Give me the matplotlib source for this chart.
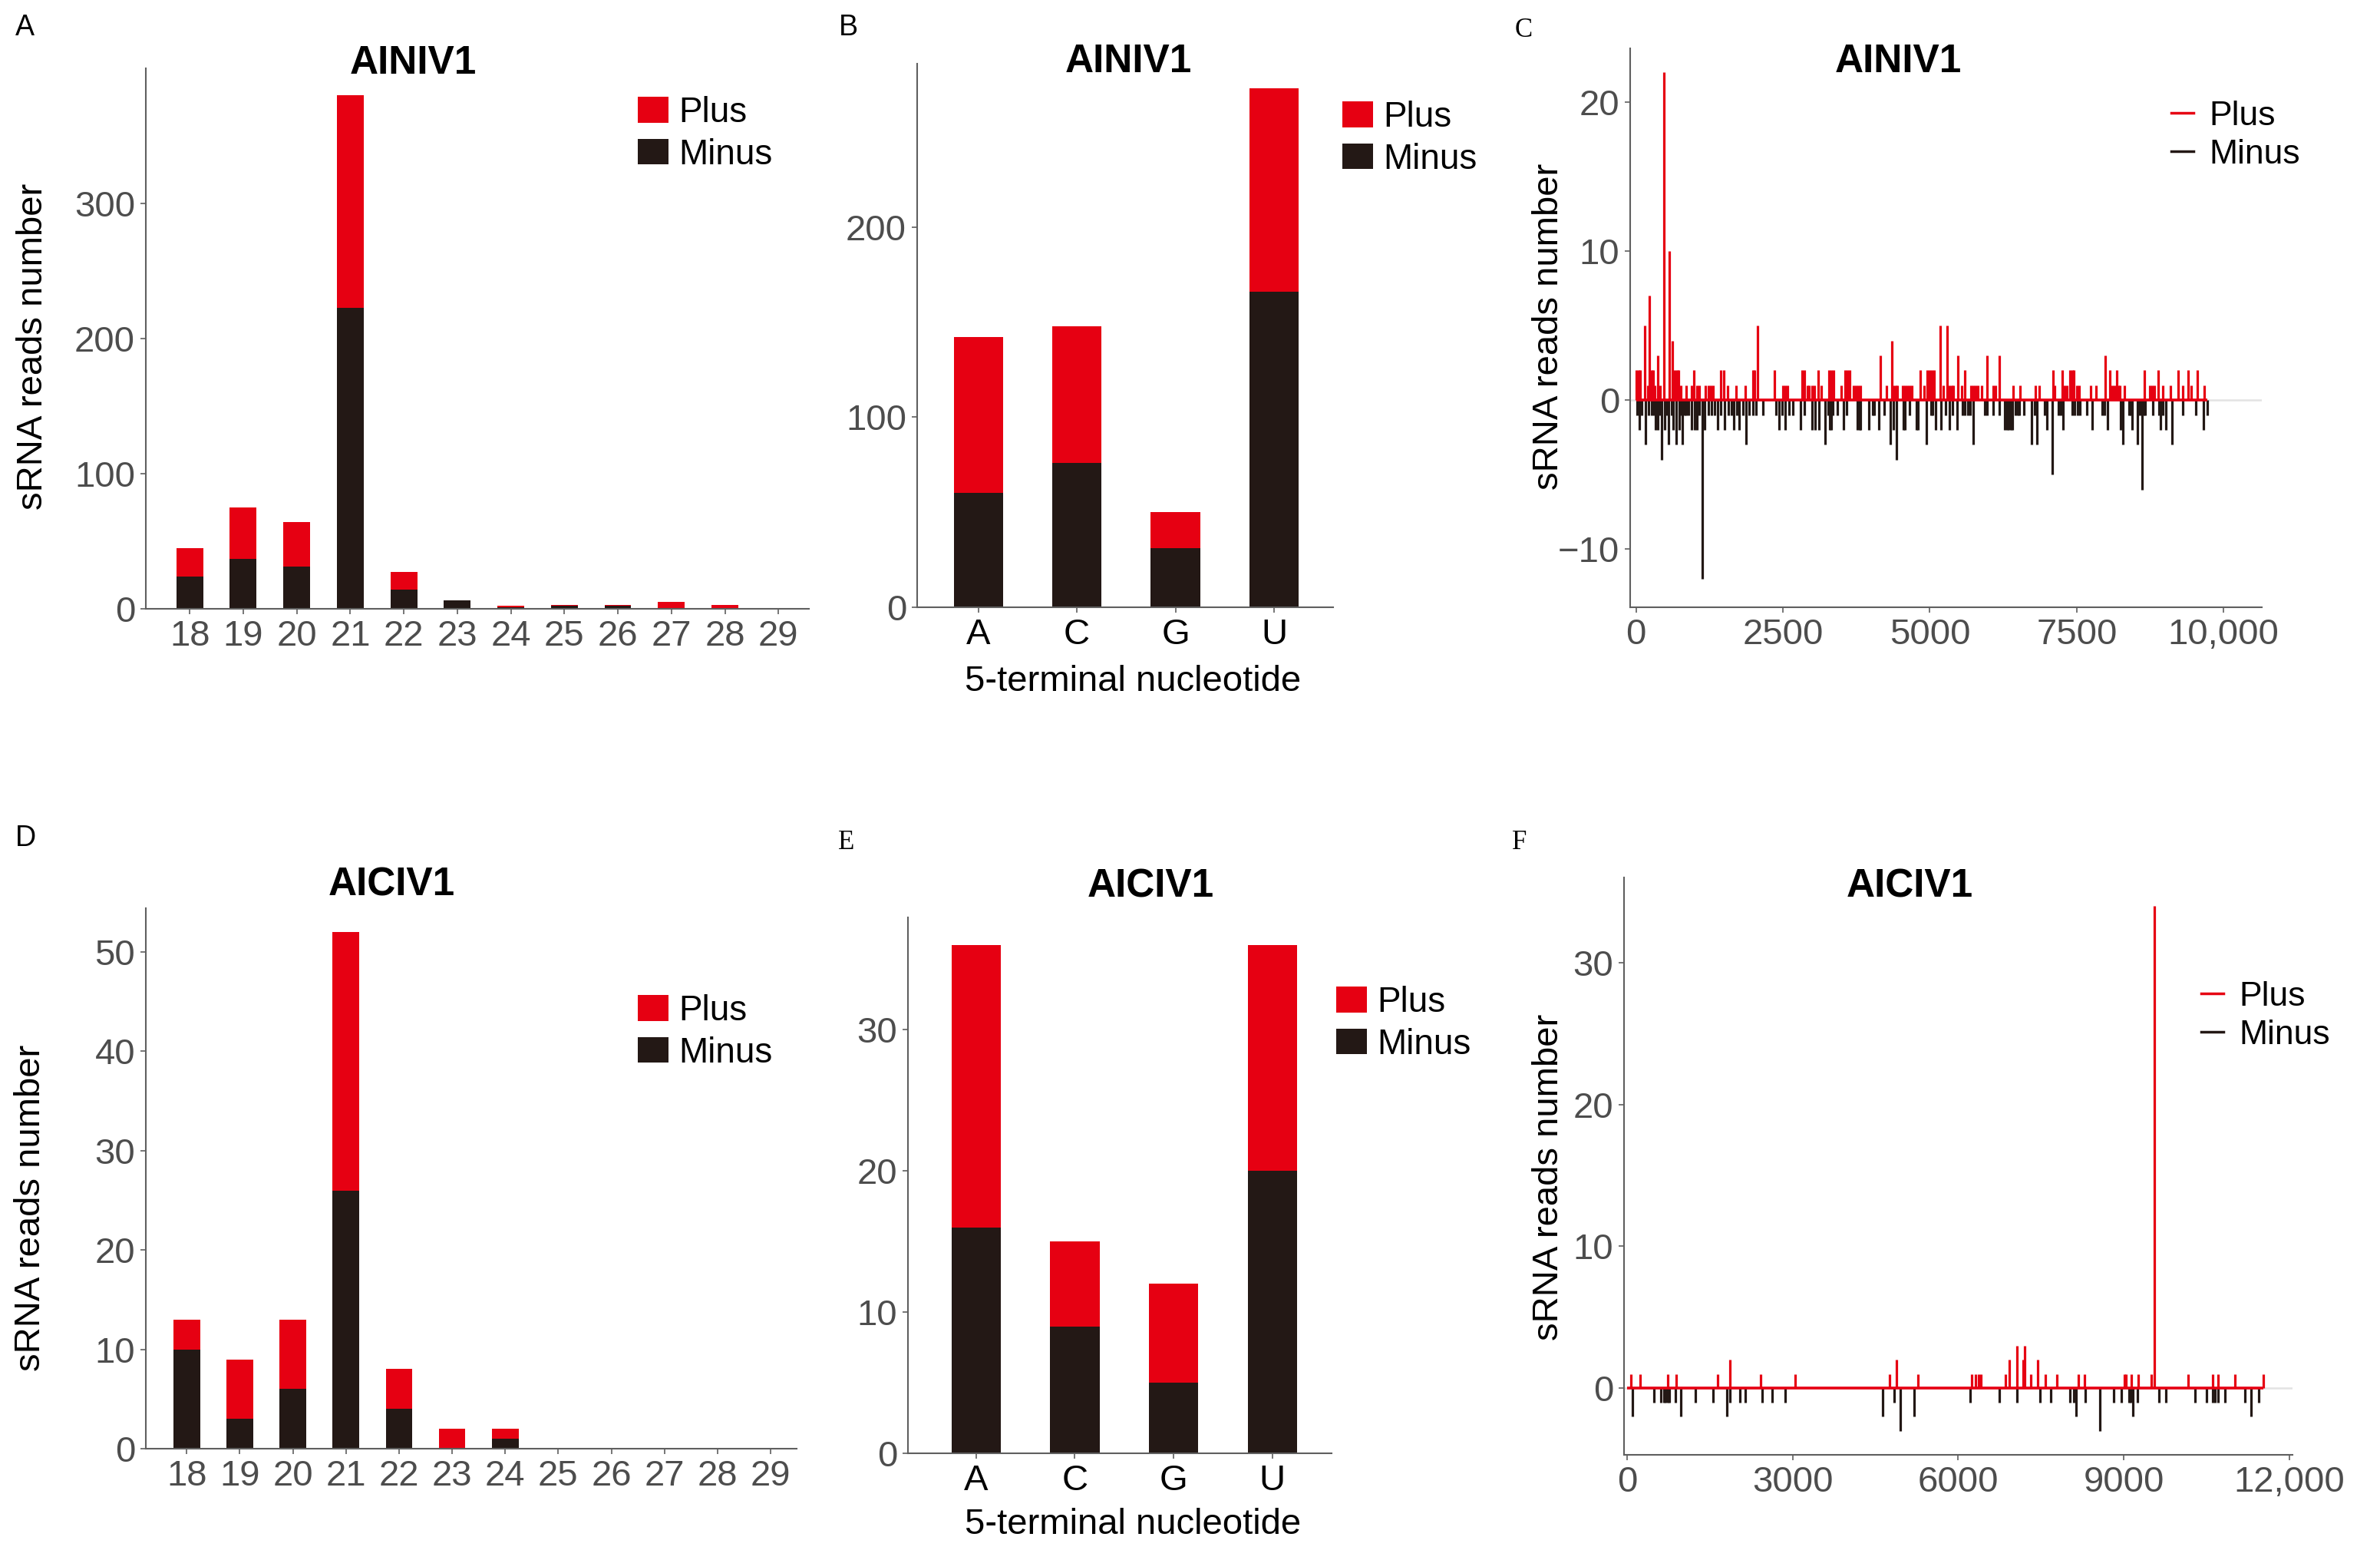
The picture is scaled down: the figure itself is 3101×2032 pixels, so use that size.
import matplotlib
matplotlib.use('Agg')
import matplotlib.pyplot as plt
from matplotlib.patches import Patch
from matplotlib.lines import Line2D

# ---------------- data ----------------
len_cats = ['18', '19', '20', '21', '22', '23', '24', '25', '26', '27', '28', '29']
a_minus = [24, 37, 31, 223, 14, 6, 1, 2, 2, 0, 0, 0]
a_plus = [21, 38, 33, 157, 13, 0, 1, 1, 1, 5, 3, 0]

nt_cats = ['A', 'C', 'G', 'U']
b_minus = [60, 76, 31, 166]
b_plus = [82, 72, 19, 107]

d_minus = [10, 3, 6, 26, 4, 0, 1, 0, 0, 0, 0, 0]
d_plus = [3, 6, 7, 26, 4, 2, 1, 0, 0, 0, 0, 0]

e_minus = [16, 9, 5, 20]
e_plus = [20, 6, 7, 16]

# Panel C (AINIV1) genome coverage
c_plus_pos = [10, 40, 70, 153, 197, 232, 263, 293, 324, 364, 407, 473, 569, 613, 657,
              692, 723, 758, 854, 942, 986, 1038, 1082, 1183, 1226, 1270, 1314, 1445,
              1489, 1555, 1708, 1862, 1984, 2019, 2072, 2356, 2497, 2540, 2584, 2825,
              2869, 2913, 2948, 3000, 3035, 3101, 3154, 3285, 3320, 3355, 3489, 3560,
              3598, 3630, 3700, 3740, 3780, 3815, 4156, 4260, 4352, 4383, 4420, 4450,
              4540, 4580, 4620, 4660, 4700, 4840, 4906, 4950, 4990, 5030, 5070, 5180,
              5233, 5298, 5330, 5370, 5400, 5473, 5538, 5595, 5700, 5740, 5780, 5820,
              5880, 5974, 6074, 6120, 6183, 6423, 6541, 6798, 6868, 7094, 7129, 7260,
              7290, 7330, 7380, 7420, 7450, 7500, 7540, 7731, 7835, 7988, 8066, 8100,
              8140, 8184, 8210, 8240, 8306, 8650, 8740, 8780, 8820, 8890, 8969, 9100,
              9231, 9300, 9392, 9453, 9549, 9666]
c_plus_val = [2, 2, 2, 5, 1, 7, 2, 2, 1, 3, 1, 22, 10, 4, 2,
              2, 2, 1, 1, 1, 2, 1, 1, 1, 1, 1, 1, 2,
              2, 1, 1, 1, 2, 2, 5, 2, 1, 1, 1, 2,
              2, 1, 1, 1, 1, 2, 1, 2, 2, 2, 1, 2,
              2, 2, 1, 1, 1, 1, 3, 1, 4, 1, 1, 1,
              1, 1, 1, 1, 1, 2, 1, 2, 2, 2, 2, 5,
              1, 5, 1, 1, 1, 3, 1, 2, 1, 1, 1, 1,
              1, 3, 1, 1, 3, 1, 1, 1, 1, 2, 1, 2,
              1, 1, 2, 2, 2, 1, 1, 1, 1, 3, 2, 1,
              1, 2, 1, 1, 1, 2, 1, 1, 1, 2, 1, 1,
              2, 1, 2, 1, 2, 1]
c_minus_pos = [22, 57, 101, 162, 219, 263, 300, 328, 372, 405, 438, 482, 526, 556, 600,
               635, 688, 731, 760, 788, 832, 860, 889, 942, 994, 1038, 1080, 1126, 1169,
               1226, 1283, 1336, 1393, 1445, 1511, 1577, 1620, 1664, 1710, 1752, 1818,
               1870, 1927, 1993, 2037, 2159, 2387, 2431, 2483, 2540, 2606, 2672, 2803,
               2869, 3000, 3053, 3110, 3219, 3272, 3292, 3320, 3350, 3423, 3532, 3584,
               3772, 3800, 3815, 3968, 4033, 4060, 4129, 4225, 4330, 4383, 4435, 4548,
               4580, 4657, 4766, 4800, 4940, 5015, 5050, 5093, 5193, 5263, 5333, 5385,
               5464, 5559, 5600, 5647, 5690, 5743, 5930, 5970, 6074, 6183, 6279, 6310,
               6345, 6380, 6410, 6460, 6497, 6520, 6597, 6737, 6780, 6824, 6955, 6990,
               7085, 7194, 7230, 7268, 7425, 7460, 7521, 7560, 7674, 7757, 7936, 7970,
               8027, 8241, 8284, 8393, 8420, 8446, 8533, 8577, 8611, 8640, 8664, 8794,
               8895, 8930, 8960, 9013, 9122, 9300, 9527, 9658, 9723]
c_minus_val = [-1, -2, -1, -3, -1, -1, -1, -2, -2, -1, -4, -2, -1, -3, -1,
               -2, -3, -2, -1, -3, -1, -1, -1, -2, -2, -2, -1, -12, -2,
               -1, -1, -1, -2, -1, -2, -1, -1, -2, -1, -2, -1,
               -3, -1, -1, -1, -1, -1, -2, -1, -2, -1, -1, -2,
               -1, -2, -2, -2, -3, -1, -2, -2, -1, -1, -2, -1,
               -2, -2, -2, -2, -1, -1, -2, -1, -3, -2, -4, -2,
               -2, -1, -2, -2, -3, -1, -1, -2, -2, -1, -2, -1,
               -2, -1, -1, -1, -1, -3, -1, -1, -1, -1, -2, -2,
               -2, -2, -2, -1, -1, -1, -1, -3, -1, -3, -1, -2,
               -5, -1, -1, -2, -1, -1, -1, -1, -1, -2, -1, -1,
               -2, -2, -3, -1, -1, -2, -3, -1, -6, -1, -1, -1,
               -1, -2, -1, -2, -3, -1, -1, -2, -1]

# Panel F (AICIV1) genome coverage
f_plus_pos = [65, 235, 734, 896, 1648, 1865, 2419, 3042, 4751, 4889, 5268, 6251, 6320,
              6366, 6413, 6851, 6921, 7073, 7174, 7211, 7322, 7442, 7576, 7788, 8176,
              8292, 9012, 9046, 9146, 9261, 9506, 9552, 10175, 10614, 10706, 11015, 11537]
f_plus_val = [1, 1, 1, 1, 1, 2, 1, 1, 1, 2, 1, 1, 1,
              1, 1, 1, 2, 3, 2, 3, 1, 2, 1, 1, 1,
              1, 1, 1, 1, 1, 1, 34, 1, 1, 1, 1, 1]
f_minus_pos = [97, 494, 619, 662, 702, 734, 766, 872, 979, 1233, 1565, 1810, 1865, 2040,
               2142, 2442, 2627, 2871, 4626, 4843, 4958, 5203, 6219, 6749, 7073, 7488,
               7682, 8028, 8098, 8144, 8306, 8569, 8813, 8961, 9099, 9127, 9160, 9252,
               9644, 9768, 10291, 10498, 10614, 10660, 10706, 10835, 11191, 11306, 11444]
f_minus_val = [-2, -1, -1, -1, -1, -1, -1, -1, -2, -1, -1, -2, -1, -1,
               -1, -1, -1, -1, -2, -1, -3, -2, -1, -1, -1, -1,
               -1, -1, -1, -2, -1, -3, -1, -1, -1, -1, -2, -1,
               -1, -1, -1, -1, -1, -1, -1, -1, -1, -2, -1]

c_xticks = [0, 2500, 5000, 7500, 10000]
c_xticklabels = ['0', '2500', '5000', '7500', '10,000']
f_xticks = [0, 3000, 6000, 9000, 12000]
f_xticklabels = ['0', '3000', '6000', '9000', '12,000']

# ---------------- style ----------------
RED = '#E60012'
BLK = '#231815'
AXC = '#5F5F5F'
TICKC = '#4D4D4D'
W, H = 3101, 2032

plt.rcParams['font.family'] = ['Liberation Sans', 'DejaVu Sans']
fig = plt.figure(figsize=(W / 100, H / 100), dpi=100)


def add_ax(l, r, t, b):
    ax = fig.add_axes([l / W, 1 - b / H, (r - l) / W, (b - t) / H])
    for s in ['top', 'right']:
        ax.spines[s].set_visible(False)
    for s in ['left', 'bottom']:
        ax.spines[s].set_color(AXC)
        ax.spines[s].set_linewidth(1.5)
    ax.tick_params(length=5, width=1.2, color=AXC, labelsize=34,
                   labelcolor=TICKC, pad=5)
    return ax


def ftext(x, y, s, **kw):
    fig.text(x / W, 1 - y / H, s, **kw)


def patch_legend(ax, x, y):
    h = [Patch(facecolor=RED, edgecolor='none'), Patch(facecolor=BLK, edgecolor='none')]
    ax.legend(h, ['Plus', 'Minus'], loc='upper left', bbox_to_anchor=(x / W, 1 - y / H),
              bbox_transform=fig.transFigure, frameon=False, fontsize=33,
              handlelength=0.87, handleheight=0.74, handletextpad=0.3,
              labelspacing=0.23, borderpad=0, borderaxespad=0)


def line_legend(ax, x, y):
    h = [Line2D([], [], color=RED, lw=2.5), Line2D([], [], color=BLK, lw=2.5)]
    ax.legend(h, ['Plus', 'Minus'], loc='upper left', bbox_to_anchor=(x / W, 1 - y / H),
              bbox_transform=fig.transFigure, frameon=False, fontsize=32,
              handlelength=0.65, handletextpad=0.45,
              labelspacing=0.2, borderpad=0, borderaxespad=0)


def stacked(ax, cats, minus, plus):
    xs = list(range(len(cats)))
    ax.bar(xs, minus, width=0.5, color=BLK, linewidth=0)
    ax.bar(xs, plus, width=0.5, bottom=minus, color=RED, linewidth=0)
    ax.set_xticks(xs)
    ax.set_xticklabels(cats)


def coverage(ax, ppos, pval, mpos, mval):
    end = max(max(ppos), max(mpos))
    ax.axhline(0, color='#E3E3E3', lw=1.8, zorder=0)
    ax.vlines(mpos, 0, mval, colors=BLK, lw=2.3, zorder=2)
    ax.vlines(ppos, 0, pval, colors=RED, lw=2.3, zorder=3)
    ax.plot([0, end], [0, 0], color=RED, lw=2.6, zorder=4, solid_capstyle='butt')


title_kw = dict(ha='center', va='center', fontsize=37, fontweight='bold', color='black')
lab_kw = dict(ha='center', va='center', fontsize=34, color='black')
letter_sans = dict(ha='left', va='center', fontsize=27, color='black')
letter_serif = dict(ha='left', va='center', fontsize=25, color='black',
                    family=['Liberation Serif', 'DejaVu Serif'])

# ---- Panel A ----
ax = add_ax(190, 1054, 89, 793)
stacked(ax, len_cats, a_minus, a_plus)
ax.set_xlim(-0.82, 11.57)
ax.set_ylim(0, 400)
ax.set_yticks([0, 100, 200, 300])
patch_legend(ax, 831, 125)
ftext(538, 83, 'AINIV1', **title_kw)
ftext(43, 451, 'sRNA reads number', rotation=90, **lab_kw)
ftext(20, 36, 'A', **letter_sans)

# ---- Panel B ----
ax = add_ax(1195, 1737, 83, 791)
stacked(ax, nt_cats, b_minus, b_plus)
ax.set_xlim(-0.62, 3.6)
ax.set_ylim(0, 286)
ax.set_yticks([0, 100, 200])
ax.tick_params(axis='x', labelcolor='black', labelsize=34)
patch_legend(ax, 1749, 131)
ftext(1470, 81, 'AINIV1', **title_kw)
ftext(1476, 888, '5-terminal nucleotide', **lab_kw)
ftext(1093, 36, 'B', **letter_sans)

# ---- Panel C ----
ax = add_ax(2124, 2947, 63, 791)
coverage(ax, c_plus_pos, c_plus_val, c_minus_pos, c_minus_val)
ax.set_xlim(-100, 10650)
ax.set_ylim(-13.9, 23.6)
ax.set_yticks([-10, 0, 10, 20])
ax.set_xticks(c_xticks)
ax.set_xticklabels(c_xticklabels)
line_legend(ax, 2829, 131)
ftext(2473, 81, 'AINIV1', **title_kw)
ftext(2018, 425, 'sRNA reads number', rotation=90, **lab_kw)
ftext(1974, 40, 'C', **letter_serif)

# ---- Panel D ----
ax = add_ax(190, 1038, 1183, 1887)
stacked(ax, len_cats, d_minus, d_plus)
ax.set_xlim(-0.77, 11.49)
ax.set_ylim(0, 54.4)
ax.set_yticks([0, 10, 20, 30, 40, 50])
patch_legend(ax, 831, 1295)
ftext(510, 1153, 'AICIV1', **title_kw)
ftext(40, 1573, 'sRNA reads number', rotation=90, **lab_kw)
ftext(20, 1092, 'D', **letter_sans)

# ---- Panel E ----
ax = add_ax(1183, 1735, 1195, 1893)
stacked(ax, nt_cats, e_minus, e_plus)
ax.set_xlim(-0.69, 3.6)
ax.set_ylim(0, 37.96)
ax.set_yticks([0, 10, 20, 30])
ax.tick_params(axis='x', labelcolor='black', labelsize=34)
patch_legend(ax, 1741, 1284)
ftext(1499, 1155, 'AICIV1', **title_kw)
ftext(1476, 1986, '5-terminal nucleotide', **lab_kw)
ftext(1092, 1098, 'E', **letter_serif)

# ---- Panel F ----
ax = add_ax(2116, 2987, 1143, 1895)
coverage(ax, f_plus_pos, f_plus_val, f_minus_pos, f_minus_val)
ax.set_xlim(-55, 12060)
ax.set_ylim(-4.7, 36.0)
ax.set_yticks([0, 10, 20, 30])
ax.set_xticks(f_xticks)
ax.set_xticklabels(f_xticklabels)
line_legend(ax, 2868, 1278)
ftext(2488, 1155, 'AICIV1', **title_kw)
ftext(2018, 1533, 'sRNA reads number', rotation=90, **lab_kw)
ftext(1970, 1098, 'F', **letter_serif)

fig.savefig('out.png', dpi=100, facecolor='white')
